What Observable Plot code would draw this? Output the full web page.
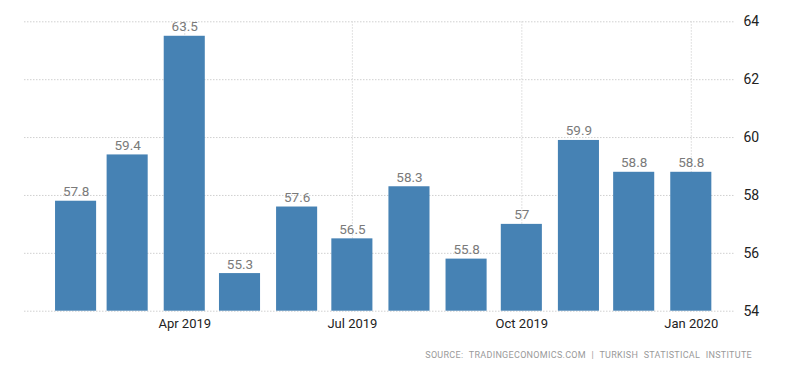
<!DOCTYPE html>
<html>
<head>
<meta charset="utf-8">
<script src="https://cdn.jsdelivr.net/npm/d3@7"></script>
<script src="https://cdn.jsdelivr.net/npm/@observablehq/plot@0.6"></script>
<style>
  html, body { margin: 0; padding: 0; background: #fff; }
  #wrap { position: relative; width: 800px; height: 373px; font-family: Roboto, "Liberation Sans", sans-serif; }
  #source { position: absolute; right: 48px; top: 350px; font-size: 9px; letter-spacing: 0.3px; word-spacing: 3px; color: #9a9a9a; white-space: nowrap; }
</style>
</head>
<body>
<div id="wrap">
  <div id="chart"></div>
  <div id="source"></div>
</div>
<script>
const months = ["2019-02-01","2019-03-01","2019-04-01","2019-05-01","2019-06-01","2019-07-01","2019-08-01","2019-09-01","2019-10-01","2019-11-01","2019-12-01","2020-01-01"];
const values = [57.8, 59.4, 63.5, 55.3, 57.6, 56.5, 58.3, 55.8, 57, 59.9, 58.8, 58.8];
const xTicks = ["2019-04-01","2019-07-01","2019-10-01","2020-01-01"];
const yTicks = [54, 56, 58, 60, 62, 64];
const sourceText = "SOURCE: TRADINGECONOMICS.COM | TURKISH STATISTICAL INSTITUTE";

const data = months.map((m, i) => ({date: new Date(m + "T00:00:00Z"), value: values[i]}));
const halfBar = 11.15 * 24 * 3600 * 1000; // half bar width in ms

const chart = Plot.plot({
  width: 800,
  height: 340,
  marginTop: 21.3,
  marginBottom: 29.3,
  marginLeft: 24,
  marginRight: 65,
  style: {fontFamily: "Roboto, 'Liberation Sans', sans-serif", background: "#fff"},
  x: {type: "utc", domain: [new Date("2019-01-04T00:00:00Z"), new Date("2020-01-25T00:00:00Z")]},
  y: {domain: [54, 64]},
  marks: [
    Plot.gridY(yTicks, {stroke: "#d0d0d0", strokeOpacity: 1, strokeDasharray: "1.5,1.5"}),
    Plot.gridX(xTicks.map(d => new Date(d + "T00:00:00Z")), {stroke: "#d8d8d8", strokeOpacity: 1, strokeDasharray: "1.5,1.5", y1: 54, y2: 64}),
    Plot.rectY(data, {
      x1: d => new Date(+d.date - halfBar),
      x2: d => new Date(+d.date + halfBar),
      y1: 54,
      y2: "value",
      fill: "#4682b4"
    }),
    Plot.text(data, {
      x: "date", y: "value", text: d => String(d.value),
      lineAnchor: "bottom", dy: -5, fill: "#7a7a7a", fontSize: 13.5
    }),
    Plot.axisX(xTicks.map(d => new Date(d + "T00:00:00Z")), {
      tickSize: 0, tickPadding: 8, fontSize: 13, fill: "#222",
      tickFormat: d3.utcFormat("%b %Y"), label: null
    }),
    Plot.axisY(yTicks, {
      anchor: "right", tickSize: 0, tickPadding: 8, fontSize: 14, fill: "#222", label: null
    })
  ]
});
document.getElementById("chart").appendChild(chart);
document.getElementById("source").textContent = sourceText;
</script>
</body>
</html>
